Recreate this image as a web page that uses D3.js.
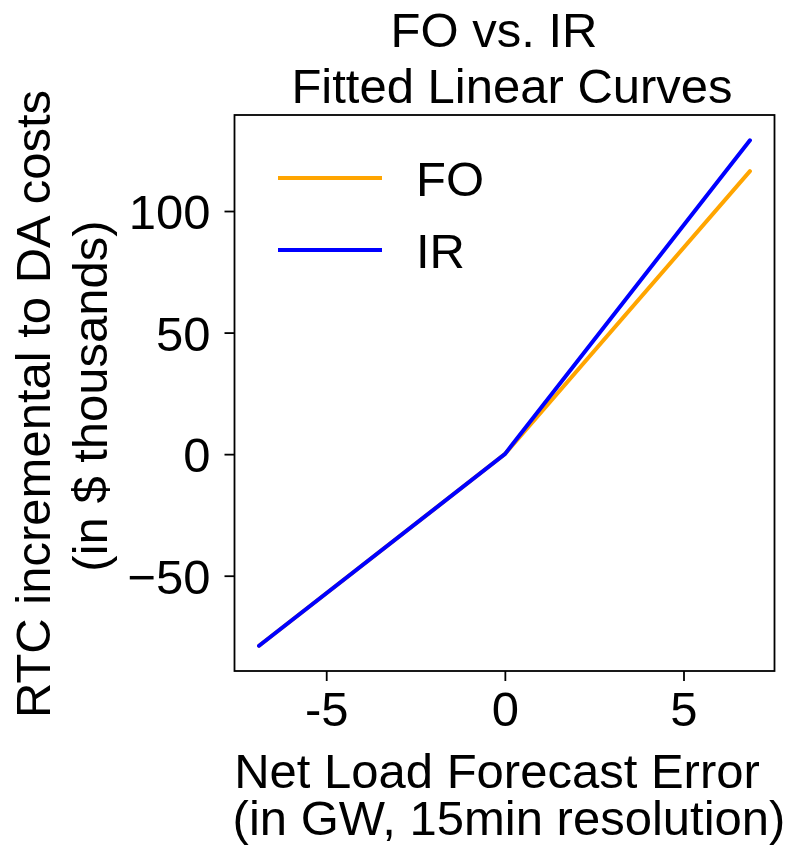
<!DOCTYPE html>
<head>
<meta charset="utf-8">
<title>FO vs. IR Fitted Linear Curves</title>
<style>
   body {
		   margin: 0;
		   background: #fff;
   }
   text {
		   font-family: "Liberation Sans", Arial, sans-serif;
		   font-size: 49px;
		   fill: #000;
   }
</style>
</head>
<body>
<div id="chartDiv"></div>

<script src="https://d3js.org/d3.v7.min.js"></script>
<script>

   // data
   var xVals = [-6.88, 0, 6.86];
   var foVals = [-78.8, 0, 116.4];
   var irVals = [-78.8, 0, 129.1];
   var xTicks = [-5, 0, 5];
   var xTickLabels = ["-5", "0", "5"];
   var yTicks = [-50, 0, 50, 100];
   var seriesNames = ["FO", "IR"];
   var seriesColors = ["#FFA500", "#0000FF"];

   var width = 794, height = 847;
   var box = {left: 234.5, right: 774.5, top: 115, bottom: 671};

   var svg = d3.select("#chartDiv")
	 .append("svg")
	   .attr("width", width)
	   .attr("height", height);

   // matplotlib style 5% margins
   function pad(ext) {
	   var m = (ext[1] - ext[0]) * 0.05;
	   return [ext[0] - m, ext[1] + m];
   }

   var x = d3.scaleLinear()
	   .domain(pad(d3.extent(xVals)))
	   .range([box.left, box.right]);
   var y = d3.scaleLinear()
	   .domain(pad(d3.extent(foVals.concat(irVals))))
	   .range([box.bottom, box.top]);

   var line = d3.line()
	   .x(function(d) { return x(d[0]); })
	   .y(function(d) { return y(d[1]); });

   var series = [foVals, irVals].map(function(vals, i) {
	   return {name: seriesNames[i], color: seriesColors[i], pts: vals.map(function(v, j) { return [xVals[j], v]; })};
   });

   svg.selectAll("path.curve")
	   .data(series)
	   .enter().append("path")
	   .attr("class", "curve")
	   .attr("d", function(d) { return line(d.pts); })
	   .attr("fill", "none")
	   .attr("stroke", function(d) { return d.color; })
	   .attr("stroke-width", 4)
	   .attr("stroke-linecap", "round");

   // frame
   svg.append("rect")
	   .attr("x", box.left)
	   .attr("y", box.top)
	   .attr("width", box.right - box.left)
	   .attr("height", box.bottom - box.top)
	   .attr("fill", "none")
	   .attr("stroke", "#000")
	   .attr("stroke-width", 1.8);

   //	Axes

   var xAxis = d3.axisBottom(x)
	   .tickValues(xTicks)
	   .tickFormat(function(d, i) { return xTickLabels[i]; })
	   .tickSize(10)
	   .tickPadding(8);
   var gx = svg.append("g")
	   .attr("transform", "translate(0," + box.bottom + ")")
	   .call(xAxis);

   var yAxis = d3.axisLeft(y)
	   .tickValues(yTicks)
	   .tickFormat(d3.format("d"))
	   .tickSize(10)
	   .tickPadding(14);
   var gy = svg.append("g")
	   .attr("transform", "translate(" + box.left + ",0)")
	   .call(yAxis);

   [gx, gy].forEach(function(g) {
	   g.select(".domain").remove();
	   g.selectAll(".tick line").attr("stroke", "#000").attr("stroke-width", 1.8);
	   g.selectAll(".tick text")
		   .attr("font-family", null)
		   .attr("font-size", null)
		   .style("font-size", "49px");
   });
   gx.selectAll(".tick text").attr("dy", "0.75em");
   gy.selectAll(".tick text").attr("dy", "0.36em")
	   .text(function(d) { return d < 0 ? "\u2212" + Math.abs(d) : d; });

   //	Titles and labels (two-line texts as tspans)

   function twoLines(sel, lines) {
	   lines.forEach(function(l) {
		   sel.append("tspan")
			   .attr("x", l.x)
			   .attr("y", l.y)
			   .text(l.t);
	   });
	   return sel;
   }

   twoLines(svg.append("text").attr("text-anchor", "middle"), [
	   {x: 494, y: 46.5, t: "FO vs. IR"},
	   {x: 512, y: 103, t: "Fitted Linear Curves"}
   ]);

   twoLines(svg.append("text").attr("text-anchor", "middle"), [
	   {x: 497, y: 788, t: "Net Load Forecast Error"},
	   {x: 509, y: 835, t: "(in GW, 15min resolution)"}
   ]);

   twoLines(svg.append("text")
	   .attr("text-anchor", "middle")
	   .attr("transform", "rotate(-90)"), [
	   {x: -404, y: 50, t: "RTC incremental to DA costs"},
	   {x: -396, y: 107, t: "(in $ thousands)"}
   ]);

   //	Legend

   var legend = svg.selectAll("g.legend")
	   .data(series)
	   .enter().append("g")
	   .attr("class", "legend")
	   .attr("transform", function(d, i) { return "translate(278," + (178 + i * 72) + ")"; });
   legend.append("line")
	   .attr("x1", 0).attr("x2", 104)
	   .attr("stroke", function(d) { return d.color; })
	   .attr("stroke-width", 4);
   legend.append("text")
	   .attr("x", 138)
	   .attr("dy", "0.36em")
	   .text(function(d) { return d.name; });

</script>
</body>
